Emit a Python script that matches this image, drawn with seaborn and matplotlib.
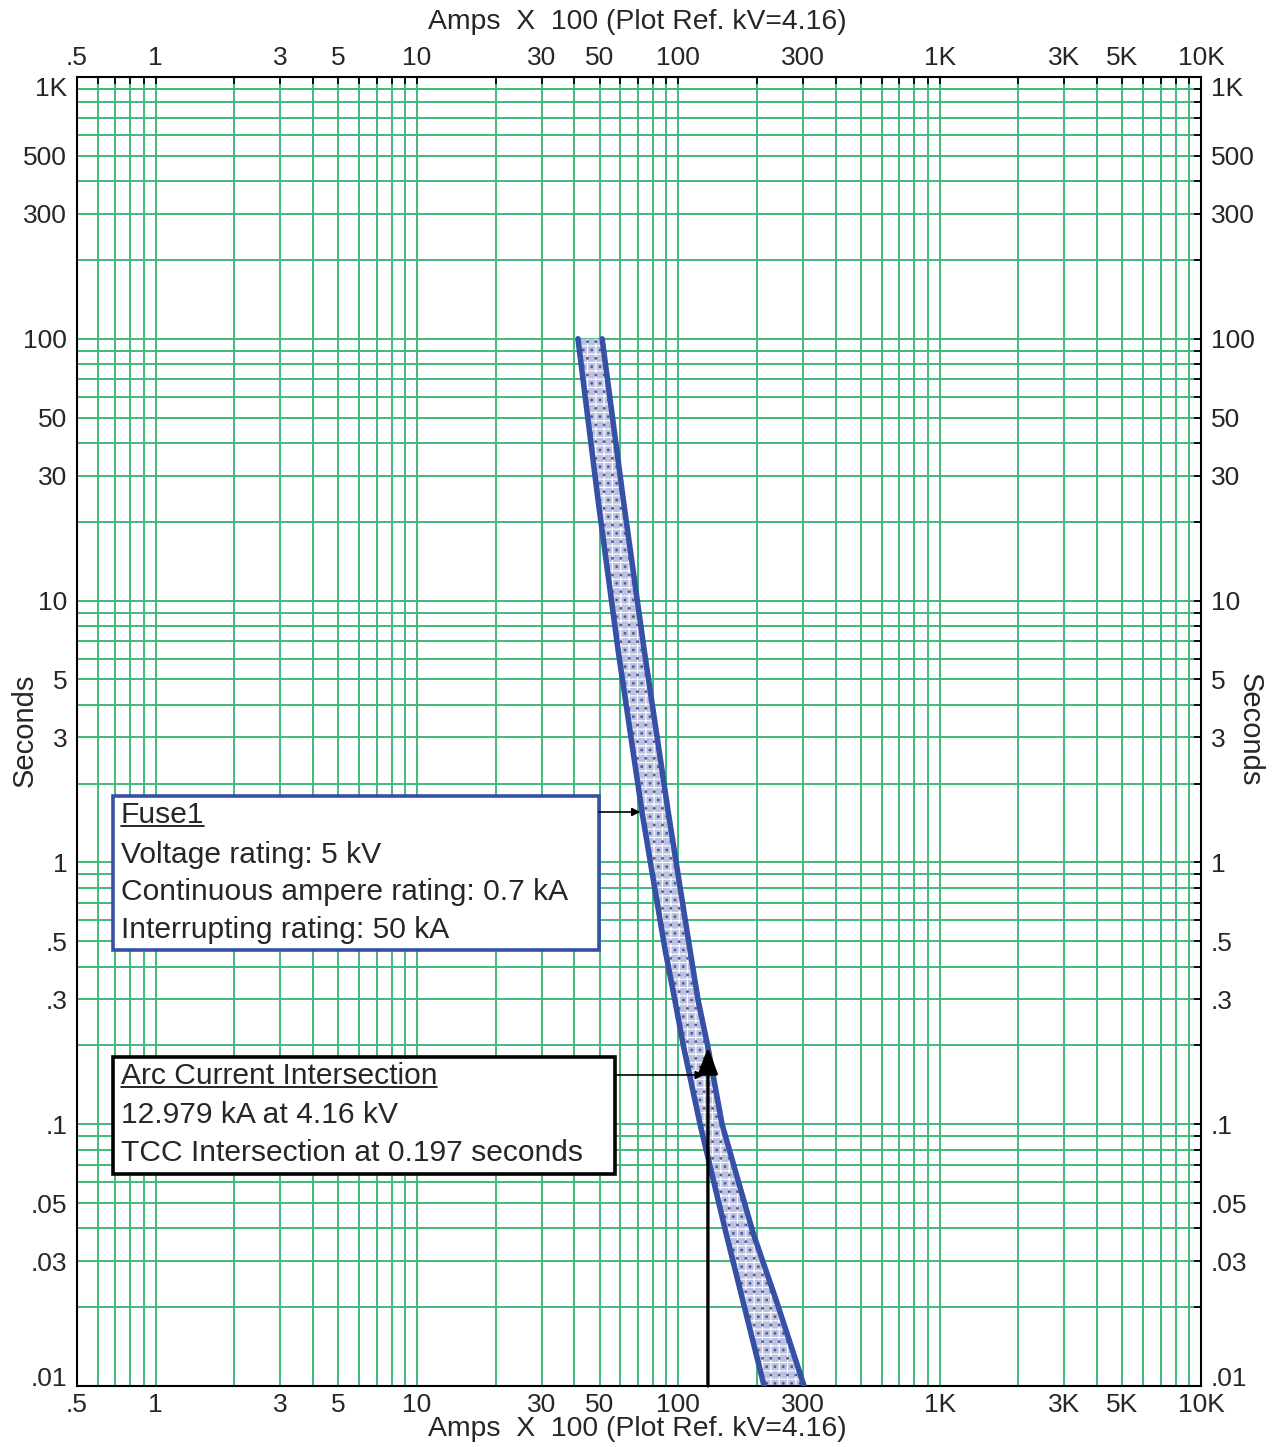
import matplotlib
matplotlib.use("Agg")
import matplotlib.pyplot as plt
import matplotlib.ticker as mticker
from matplotlib.patches import Rectangle
import numpy as np
import pandas as pd
import seaborn as sns

# fuse TCC band, time in seconds, current in Amps x 100
band_time = [100, 24.2, 6.48, 1.545, 1.0, 0.463, 0.298, 0.197, 0.100, 0.0384, 0.0213, 0.01]
min_melt_amps = [41.3, 49.3, 58.8, 72.7, 78.2, 89.0, 97.0, 104.8, 121.1, 152.2, 176.3, 212.9]
total_clear_amps = [51.1, 61.6, 74.0, 91.6, 98.1, 110.8, 119.0, 129.8, 147.0, 193.2, 236.7, 302.8]

arc_current = 129.79   # 12.979 kA
tcc_time = 0.197

x_major = [0.5, 1, 3, 5, 10, 30, 50, 100, 300, 1000, 3000, 5000, 10000]
x_labels = [".5", "1", "3", "5", "10", "30", "50", "100", "300", "1K", "3K", "5K", "10K"]
y_major = [1000, 500, 300, 100, 50, 30, 10, 5, 3, 1, 0.5, 0.3, 0.1, 0.05, 0.03, 0.01]
y_labels = ["1K", "500", "300", "100", "50", "30", "10", "5", "3", "1", ".5", ".3", ".1", ".05", ".03", ".01"]

fuse_lines = ["Voltage rating: 5 kV", "Continuous ampere rating: 0.7 kA", "Interrupting rating: 50 kA"]
arc_lines = ["12.979 kA at 4.16 kV", "TCC Intersection at 0.197 seconds"]

sns.set_style("white")
plt.rcParams["font.family"] = ["Liberation Sans", "DejaVu Sans"]
plt.rcParams["hatch.linewidth"] = 0.8

GRID = "#3fba7a"
BLUE = "#3550a4"

fig = plt.figure(figsize=(12.75, 14.47), dpi=100)
ax = fig.add_axes([77 / 1275, 1 - 1386 / 1447, 1124 / 1275, 1309 / 1447])
ax.set_xscale("log")
ax.set_yscale("log")
ax.set_xlim(0.5, 10000)
ax.set_ylim(0.01, 1000)


def minors(lo, hi):
    vals = []
    for d in range(-2, 5):
        for m in range(1, 10):
            v = round(m * 10.0 ** d, 6)
            if lo <= v <= hi:
                vals.append(v)
    return vals


x_minor = [v for v in minors(0.5, 10000) if not any(np.isclose(v, x_major))]
y_minor = [v for v in minors(0.01, 1000) if not any(np.isclose(v, y_major))]

ax.xaxis.set_major_locator(mticker.FixedLocator(x_major))
ax.xaxis.set_major_formatter(mticker.FixedFormatter(x_labels))
ax.xaxis.set_minor_locator(mticker.FixedLocator(x_minor))
ax.xaxis.set_minor_formatter(mticker.NullFormatter())
ax.yaxis.set_major_locator(mticker.FixedLocator(y_major))
ax.yaxis.set_major_formatter(mticker.FixedFormatter(y_labels))
ax.yaxis.set_minor_locator(mticker.FixedLocator(y_minor))
ax.yaxis.set_minor_formatter(mticker.NullFormatter())

ax.grid(True, which="both", color=GRID, linewidth=1.4, zorder=0)
ax.set_axisbelow(True)
ax.tick_params(which="both", direction="in", length=5, width=1.3, color="black",
               top=True, right=True, labeltop=True, labelright=True, labelsize=19)
ax.tick_params(axis="x", pad=5)
ax.tick_params(axis="y", pad=7)
for s in ax.spines.values():
    s.set_color("black")
    s.set_linewidth(1.5)

# extreme y labels pushed inside the axis span
yt = ax.yaxis.get_major_ticks()
for lab in (yt[0].label1, yt[0].label2):
    lab.set_va("top")
for lab in (yt[-1].label1, yt[-1].label2):
    lab.set_va("baseline")

# TCC band
ax.fill_betweenx(band_time, min_melt_amps, total_clear_amps, facecolor="#bcc1e0",
                 edgecolor="white", hatch="++", linewidth=0, zorder=2)
ax.fill_betweenx(band_time, min_melt_amps, total_clear_amps, facecolor="none",
                 edgecolor="#4d5a9e", hatch="..", linewidth=0, zorder=2)
band = pd.DataFrame({"time": band_time, "min_melt": min_melt_amps, "total_clear": total_clear_amps})
sns.lineplot(data=band, x="min_melt", y="time", sort=False, estimator=None, color=BLUE,
             linewidth=4.0, ax=ax, zorder=3)
sns.lineplot(data=band, x="total_clear", y="time", sort=False, estimator=None, color=BLUE,
             linewidth=4.0, ax=ax, zorder=3)
ax.set_xlabel("")
ax.set_ylabel("")

# arc current line
ax.annotate("", xy=(arc_current, tcc_time), xytext=(arc_current, 0.01),
            arrowprops=dict(arrowstyle="-|>,head_width=0.3,head_length=0.8", color="black",
                            lw=2.4, mutation_scale=20, shrinkA=0, shrinkB=0), zorder=5)

# Fuse1 box
ax.add_patch(Rectangle((0.032, 0.3331), 0.4324, 0.1176, transform=ax.transAxes,
                       facecolor="white", edgecolor=BLUE, linewidth=2.6, zorder=6))
t1 = ax.text(0.0391, 0.4362, "Fuse1", transform=ax.transAxes, fontsize=21.6, va="center", zorder=7)
for i, s in enumerate(fuse_lines):
    ax.text(0.0391, 0.4057 - i * 0.0285, s, transform=ax.transAxes, fontsize=21.6, va="center", zorder=7)

# arc box
ax.add_patch(Rectangle((0.032, 0.162), 0.4466, 0.0893, transform=ax.transAxes,
                       facecolor="white", edgecolor="black", linewidth=2.6, zorder=6))
t2 = ax.text(0.0391, 0.2368, "Arc Current Intersection", transform=ax.transAxes, fontsize=21.6,
             va="center", zorder=7)
for i, s in enumerate(arc_lines):
    ax.text(0.0391, 0.2070 - i * 0.029, s, transform=ax.transAxes, fontsize=21.6, va="center", zorder=7)

# pointer arrows
fuse_y = 10 ** (-2 + 5 * 0.4385)
fuse_x = 10 ** np.interp(np.log10(fuse_y), np.log10(band_time[::-1]), np.log10(min_melt_amps[::-1]))
ax.annotate("", xy=(fuse_x * 0.985, 0.4385), xycoords=("data", "axes fraction"),
            xytext=(0.4644, 0.4385), textcoords="axes fraction",
            arrowprops=dict(arrowstyle="-|>", color="black", lw=1.2, mutation_scale=12,
                            shrinkA=0, shrinkB=0), zorder=7)
ax.annotate("", xy=(arc_current * 0.965, 0.2376), xycoords=("data", "axes fraction"),
            xytext=(0.4786, 0.2376), textcoords="axes fraction",
            arrowprops=dict(arrowstyle="-|>", color="black", lw=1.2, mutation_scale=12,
                            shrinkA=0, shrinkB=0), zorder=7)

# underlines for the box titles
fig.canvas.draw()
inv = ax.transAxes.inverted()
for t in (t1, t2):
    bb = t.get_window_extent()
    (x0, y0), (x1, y1) = inv.transform([[bb.x0, bb.y0], [bb.x1, bb.y1]])
    yl = y0 + (y1 - y0) * 0.12
    ax.plot([x0, x1], [yl, yl], transform=ax.transAxes, color="black", lw=1.2, zorder=7)

fig.text(0.5, 1 - 22 / 1447, "Amps  X  100 (Plot Ref. kV=4.16)", ha="center", va="center", fontsize=20.4)
fig.text(0.5, 1 - 1429 / 1447, "Amps  X  100 (Plot Ref. kV=4.16)", ha="center", va="center", fontsize=20.4)
fig.text(25 / 1275, 1 - 730 / 1447, "Seconds", rotation=90, ha="center", va="center", fontsize=21)
fig.text(1250 / 1275, 1 - 730 / 1447, "Seconds", rotation=270, ha="center", va="center", fontsize=21)

fig.savefig("out.png", dpi=100)
